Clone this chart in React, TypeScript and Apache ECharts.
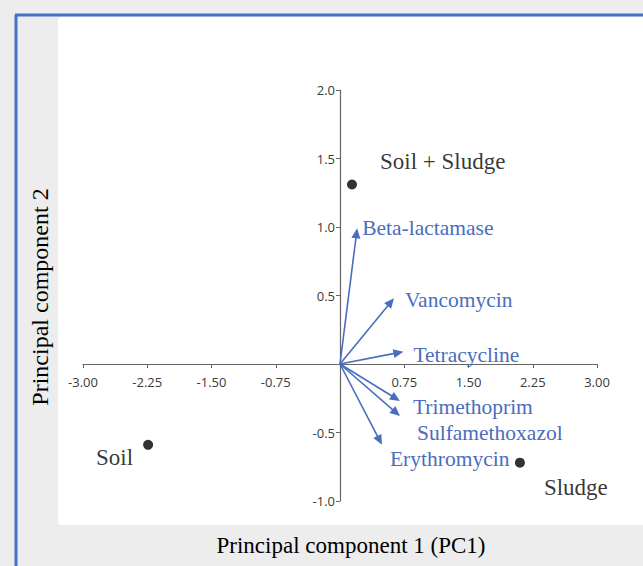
import React, { useEffect, useRef } from "react";
import * as echarts from "echarts";

// ---- data ----
const vectorNames = ["Beta-lactamase", "Vancomycin", "Tetracycline", "Trimethoprim", "Sulfamethoxazol", "Erythromycin"];
const vectorPC1 = [0.2, 0.63, 0.74, 0.7, 0.7, 0.49];
const vectorPC2 = [0.99, 0.48, 0.09, -0.27, -0.38, -0.59];

const sampleNames = ["Soil + Sludge", "Soil", "Sludge"];
const samplePC1 = [0.14, -2.24, 2.1];
const samplePC2 = [1.31, -0.59, -0.72];

const xTitle = "Principal component 1 (PC1)";
const yTitle = "Principal component 2";

// ---- styling (label placement relative to marks) ----
const vectorLabelOffsets = [
  [5, 0],
  [11, 2],
  [10, 3],
  [13, 6],
  [17, 17],
  [8, 14],
];
const sampleLabelPlacement = [
  { position: "right", offset: [23, -23] },
  { position: "left", offset: [-10, 13] },
  { position: "right", offset: [19, 25] },
];

const BLUE = "#4a6dbd";
const SERIF = "'Liberation Serif', 'Times New Roman', serif";
const SANS = "'Open Sans', 'Noto Sans', sans-serif";

// grid geometry
const GRID_LEFT = 83;
const GRID_RIGHT = 46;
const GRID_TOP = 90;
const GRID_BOTTOM = 65;
const W = 643;
const H = 566;
const X_MIN = -3, X_MAX = 3, Y_MIN = -1, Y_MAX = 2;

export default function App() {
  const ref = useRef<HTMLDivElement>(null);

  useEffect(() => {
    if (!ref.current) return;
    const chart = echarts.init(ref.current, null, { renderer: "svg" });

    const gridW = W - GRID_LEFT - GRID_RIGHT;
    const gridH = H - GRID_TOP - GRID_BOTTOM;
    // shift axes from the grid edges to cross at the origin
    const xAxisOffset = -((0 - Y_MIN) / (Y_MAX - Y_MIN)) * gridH;
    const yAxisOffset = -((0 - X_MIN) / (X_MAX - X_MIN)) * gridW;

    const vectorData = vectorNames.map((n, i) => [vectorPC1[i], vectorPC2[i]]);
    const sampleData = sampleNames.map((n, i) => ({
      name: n,
      value: [samplePC1[i], samplePC2[i]],
      label: {
        position: sampleLabelPlacement[i].position,
        offset: sampleLabelPlacement[i].offset,
      },
    }));

    chart.setOption({
      animation: false,
      backgroundColor: "#ededed",
      graphic: [
        {
          type: "rect",
          z: -10,
          shape: { x: 58, y: 17, width: 600, height: 508, r: 4 },
          style: { fill: "#ffffff" },
        },
        {
          type: "line",
          z: -5,
          shape: { x1: 16, y1: 15, x2: 16, y2: 570 },
          style: { stroke: "#4472c4", lineWidth: 3 },
        },
        {
          type: "line",
          z: -5,
          shape: { x1: 15, y1: 15, x2: 650, y2: 15 },
          style: { stroke: "#4472c4", lineWidth: 3 },
        },
        {
          type: "text",
          x: 351,
          y: 545,
          style: {
            text: xTitle,
            font: `23px ${SERIF}`,
            fill: "#000",
            align: "center",
            verticalAlign: "middle",
          },
        },
        {
          type: "text",
          x: 40,
          y: 297,
          rotation: Math.PI / 2,
          style: {
            text: yTitle,
            font: `24px ${SERIF}`,
            fill: "#000",
            align: "center",
            verticalAlign: "middle",
          },
        },
      ],
      grid: { left: GRID_LEFT, right: GRID_RIGHT, top: GRID_TOP, bottom: GRID_BOTTOM, containLabel: false },
      xAxis: {
        type: "value",
        min: X_MIN,
        max: X_MAX,
        interval: 0.75,
        position: "bottom",
        offset: xAxisOffset,
        axisLine: { onZero: false, lineStyle: { color: "#666", width: 1.2 } },
        axisTick: { show: true, length: 4, lineStyle: { color: "#666" } },
        axisLabel: {
          formatter: (v: number) => (Math.abs(v) < 1e-9 ? "" : v.toFixed(2)),
          color: "#3a3a3a",
          fontSize: 13,
          fontFamily: SANS,
          margin: 11,
        },
        splitLine: { show: false },
      },
      yAxis: {
        type: "value",
        min: Y_MIN,
        max: Y_MAX,
        interval: 0.5,
        position: "left",
        offset: yAxisOffset,
        axisLine: { onZero: false, lineStyle: { color: "#666", width: 1.2 } },
        axisTick: { show: true, length: 4, lineStyle: { color: "#666" } },
        axisLabel: {
          formatter: (v: number) => (Math.abs(v) < 1e-9 ? "" : v.toFixed(1)),
          color: "#3a3a3a",
          fontSize: 13,
          fontFamily: SANS,
          margin: 5,
        },
        splitLine: { show: false },
      },
      series: [
        {
          type: "custom",
          silent: true,
          data: vectorData,
          renderItem: (params: any, api: any) => {
            const i = params.dataIndex;
            const o = api.coord([0, 0]);
            const t = api.coord([api.value(0), api.value(1)]);
            const dx = t[0] - o[0];
            const dy = t[1] - o[1];
            const len = Math.hypot(dx, dy) || 1;
            const ux = dx / len;
            const uy = dy / len;
            const hl = 10;
            const hw = 4.5;
            const bx = t[0] - ux * hl;
            const by = t[1] - uy * hl;
            const px = -uy;
            const py = ux;
            const off = vectorLabelOffsets[i];
            return {
              type: "group",
              children: [
                {
                  type: "line",
                  shape: { x1: o[0], y1: o[1], x2: bx + ux * 1, y2: by + uy * 1 },
                  style: { stroke: BLUE, lineWidth: 1.6 },
                },
                {
                  type: "polygon",
                  shape: {
                    points: [
                      [t[0], t[1]],
                      [bx + px * hw, by + py * hw],
                      [bx - px * hw, by - py * hw],
                    ],
                  },
                  style: { fill: BLUE },
                },
                {
                  type: "text",
                  x: t[0] + off[0],
                  y: t[1] + off[1],
                  style: {
                    text: vectorNames[i],
                    font: `21.5px ${SERIF}`,
                    lineHeight: 20,
                    fill: BLUE,
                    align: "left",
                    verticalAlign: "middle",
                  },
                },
              ],
            };
          },
        },
        {
          type: "scatter",
          silent: true,
          symbol: "circle",
          symbolSize: 10,
          itemStyle: { color: "#000" },
          data: sampleData,
          label: {
            show: true,
            formatter: (p: any) => p.name,
            color: "#000",
            fontSize: 23,
            fontFamily: SERIF,
            distance: 0,
          },
        },
      ],
    });

    return () => chart.dispose();
  }, []);

  return (
    <div style={{ position: "fixed", left: 0, top: 0, width: W, height: H }}>
      <div ref={ref} style={{ width: W, height: H }} />
    </div>
  );
}
